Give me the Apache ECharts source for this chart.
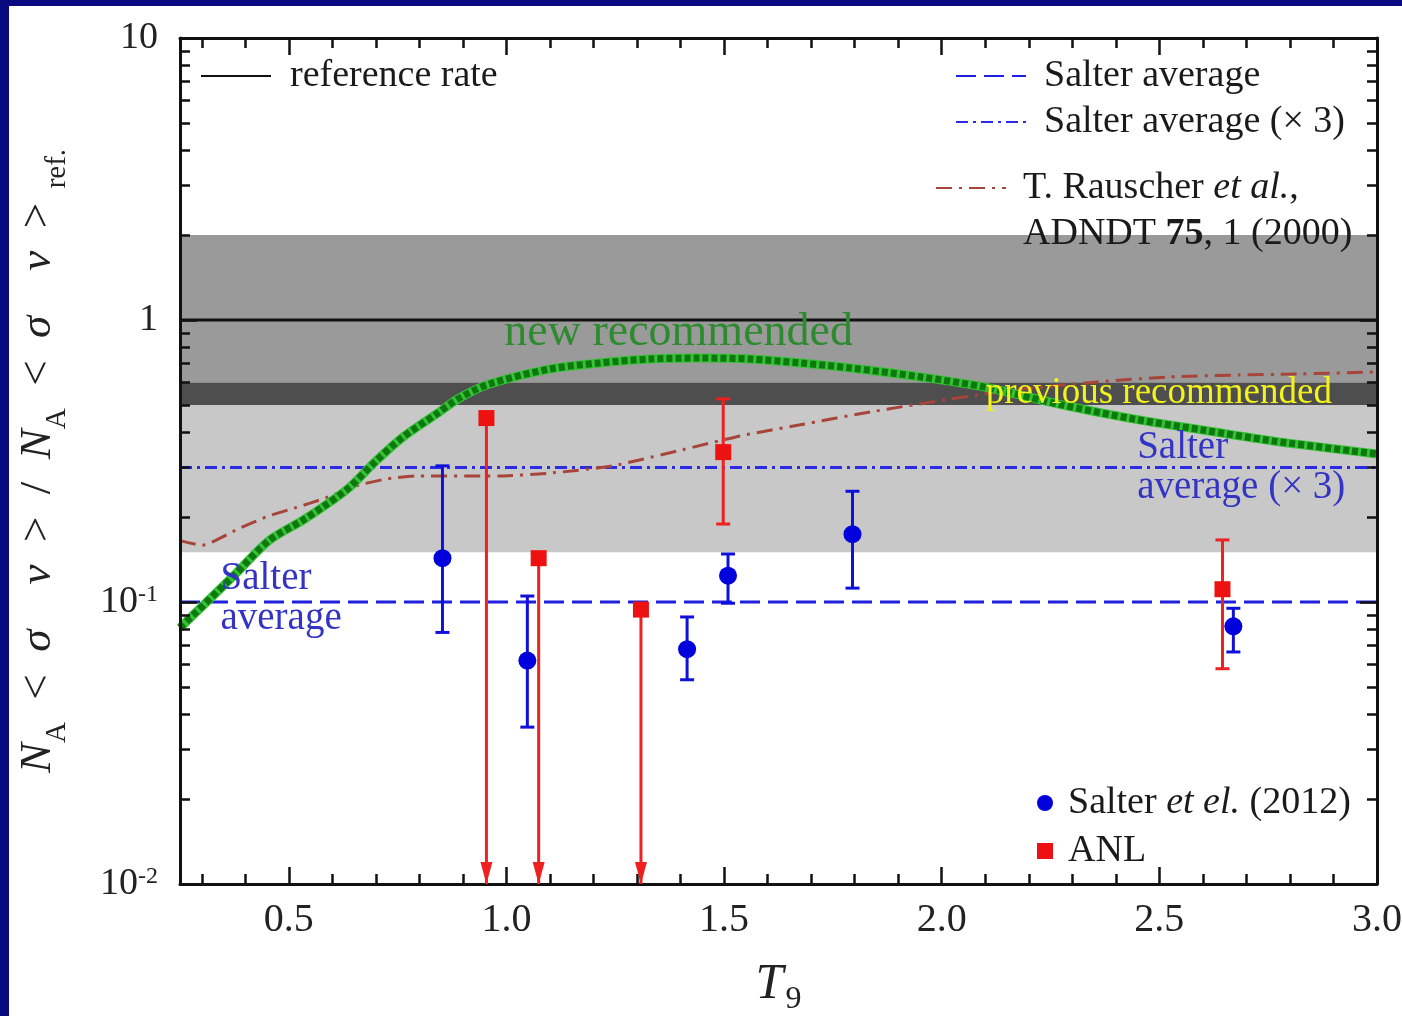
<!DOCTYPE html>
<html>
<head>
<meta charset="utf-8">
<script src="https://cdn.jsdelivr.net/npm/echarts@6/dist/echarts.min.js"></script>
<style>
html, body { margin: 0; padding: 0; background: #0a0a80; }
#main { position: absolute; left: 9px; top: 6px; width: 1393px; height: 1010px; background: #fff; }
</style>
</head>
<body>
<div id="main"></div>
<script>
// ---- data ----
const xRange = [0.25, 3.0];
const yMin = 0.01, yMax = 10;

const referenceRate = 1;
const salterAverage = 0.1;
const salterAverageX3 = 0.3;
// shaded bands [low, high]
const bandMid = [0.6, 2.0];
const bandPrev = [0.5, 0.6];
const bandLow = [0.15, 0.5];

const newRecT9 = [0.25, 0.378, 0.454, 0.53, 0.576, 0.638, 0.70, 0.76, 0.839, 0.892, 0.961, 1.099, 1.214, 1.329, 1.445, 1.56, 1.675, 1.79, 1.952, 2.099, 2.276, 2.44, 2.601, 2.763, 3.0];
const newRecRate = [0.081, 0.126, 0.165, 0.194, 0.216, 0.254, 0.316, 0.382, 0.464, 0.529, 0.593, 0.670, 0.704, 0.727, 0.733, 0.727, 0.704, 0.676, 0.628, 0.578, 0.500, 0.446, 0.407, 0.372, 0.335];

const rauscherT9 = [0.25, 0.30, 0.385, 0.454, 0.516, 0.585, 0.654, 0.724, 0.793, 0.984, 1.106, 1.244, 1.392, 1.537, 1.675, 1.836, 2.021, 2.182, 2.357, 2.521, 2.682, 2.804, 3.0];
const rauscherRate = [0.165, 0.159, 0.182, 0.202, 0.216, 0.234, 0.258, 0.273, 0.280, 0.280, 0.287, 0.304, 0.343, 0.388, 0.425, 0.472, 0.525, 0.569, 0.603, 0.628, 0.638, 0.643, 0.654];

const salterT9 = [0.853, 1.048, 1.415, 1.509, 1.795, 2.670];
const salterRate = [0.143, 0.062, 0.068, 0.124, 0.174, 0.082];
const salterLow = [0.078, 0.036, 0.053, 0.099, 0.112, 0.0665];
const salterHigh = [0.304, 0.105, 0.0885, 0.148, 0.247, 0.095];

const anlT9 = [0.954, 1.074, 1.309, 1.498, 2.645];
const anlRate = [0.449, 0.143, 0.094, 0.340, 0.111];
const anlLow = [null, null, null, 0.189, 0.058];
const anlHigh = [null, null, null, 0.525, 0.166];
const anlUpperLimit = [true, true, true, false, false];

const majorX = [0.5, 1.0, 1.5, 2.0, 2.5, 3.0];
const minorX = [0.3, 0.4, 0.6, 0.7, 0.8, 0.9, 1.1, 1.2, 1.3, 1.4, 1.6, 1.7, 1.8, 1.9,
                2.1, 2.2, 2.3, 2.4, 2.6, 2.7, 2.8, 2.9];
const majorYlog = [-2, -1, 0, 1];
const minorYlog = [];
[-2, -1, 0].forEach(function (d) {
    for (let m = 2; m <= 9; m++) minorYlog.push(d + Math.log10(m));
});

// ---- chart ----
const FONT = 'Liberation Serif';
let myChart = echarts.init(document.getElementById('main'));

function zip(xs, ys) {
    return xs.map(function (x, i) { return [x, ys[i]]; });
}

const salterBars = salterT9.map(function (x, i) { return [x, salterLow[i], salterHigh[i], 0]; });
const anlBars = anlT9.map(function (x, i) {
    return anlUpperLimit[i] ? [x, yMin, anlRate[i], 1] : [x, anlLow[i], anlHigh[i], 0];
});

function errorBar(color) {
    return function (params, api) {
        const x = api.value(0);
        const top = api.coord([x, api.value(2)]);
        const bot = api.coord([x, api.value(1)]);
        const style = { stroke: color, lineWidth: 3 };
        const kids = [{ type: 'line', shape: { x1: top[0], y1: top[1], x2: bot[0], y2: bot[1] }, style: style }];
        if (api.value(3)) {
            kids.push({
                type: 'polygon',
                shape: { points: [[bot[0] - 6, bot[1] - 22], [bot[0] + 6, bot[1] - 22], [bot[0], bot[1]]] },
                style: { fill: color }
            });
        } else {
            kids.push({ type: 'line', shape: { x1: top[0] - 7, y1: top[1], x2: top[0] + 7, y2: top[1] }, style: style });
            kids.push({ type: 'line', shape: { x1: bot[0] - 7, y1: bot[1], x2: bot[0] + 7, y2: bot[1] }, style: style });
        }
        return { type: 'group', children: kids };
    };
}

const LEG = 38;
const richBase = {
    n: { fontFamily: FONT, fontSize: LEG, color: '#1a1a1a' },
    i: { fontFamily: FONT, fontSize: LEG, fontStyle: 'italic', color: '#1a1a1a' },
    b: { fontFamily: FONT, fontSize: LEG, fontWeight: 'bold', color: '#1a1a1a' }
};
const noSymbol = { color: 'rgba(0,0,0,0)', borderWidth: 0, opacity: 0 };

function xAxisCfg(pos, ticks, len, showLine, showLabel) {
    return {
        type: 'value', position: pos, min: xRange[0], max: xRange[1], z: 5,
        axisLine: { show: showLine, onZero: false, lineStyle: { color: '#111', width: 3 } },
        axisTick: { inside: true, length: len, customValues: ticks, lineStyle: { color: '#111', width: 2.5 } },
        axisLabel: { show: showLabel },
        splitLine: { show: false }
    };
}
function yAxisCfg(pos, ticks, len, showLine) {
    return {
        type: 'value', position: pos, min: -2, max: 1, z: 5,
        axisLine: { show: showLine, onZero: false, lineStyle: { color: '#111', width: 3 } },
        axisTick: { inside: true, length: len, customValues: ticks, lineStyle: { color: '#111', width: 2.5 } },
        axisLabel: { show: false },
        splitLine: { show: false }
    };
}

let bottomAxis = xAxisCfg('bottom', majorX, 17, true, true);
bottomAxis.axisLabel = {
    show: true, customValues: majorX, margin: 16,
    fontFamily: FONT, fontSize: 40, color: '#222',
    formatter: function (v) { return v.toFixed(1); }
};
bottomAxis.name = '{t|T}{s|9}';
bottomAxis.nameLocation = 'middle';
bottomAxis.nameGap = 76;
bottomAxis.nameTextStyle = {
    rich: {
        t: { fontFamily: FONT, fontSize: 50, fontStyle: 'italic', color: '#222', verticalAlign: 'top' },
        s: { fontFamily: FONT, fontSize: 32, color: '#222', verticalAlign: 'top', padding: [24, 0, 0, 2] }
    }
};

const yNameRich = {
    i: { fontFamily: FONT, fontSize: 45, fontStyle: 'italic', color: '#222', verticalAlign: 'top' },
    n: { fontFamily: FONT, fontSize: 45, color: '#222', verticalAlign: 'top' },
    s: { fontFamily: FONT, fontSize: 29, color: '#222', verticalAlign: 'top', padding: [27, 0, 0, 0] }
};

let option = {
    animation: false,
    grid: { left: 171, top: 32, width: 1197, height: 846, outerBoundsMode: 'none', containLabel: false },
    xAxis: [
        bottomAxis,
        xAxisCfg('bottom', minorX, 10, false, false),
        xAxisCfg('top', majorX, 17, true, false),
        xAxisCfg('top', minorX, 10, false, false)
    ],
    yAxis: [
        {
            type: 'log', logBase: 10, position: 'left', min: yMin, max: yMax, z: 5,
            axisLine: { show: true, onZero: false, lineStyle: { color: '#111', width: 3 } },
            axisTick: { inside: true, length: 17, lineStyle: { color: '#111', width: 2.5 } },
            splitLine: { show: false },
            axisLabel: {
                margin: 22, fontFamily: FONT, fontSize: 38, color: '#222',
                formatter: function (v) {
                    if (v >= 9) return '10';
                    if (v >= 0.9) return '1';
                    if (v >= 0.09) return '10{sup|-1}';
                    return '10{sup|-2}';
                },
                rich: {
                    sup: { fontFamily: FONT, fontSize: 24, color: '#222', verticalAlign: 'top', padding: [0, 0, 14, 0] }
                }
            },
            name: '{i|N}{s|A}{n|  <  }{i|σ    ν}{n|  >  /  }{i|N}{s|A}{n|  <  }{i|σ    ν}{n|  >}{s|  ref.}',
            nameLocation: 'middle', nameRotate: 90, nameGap: 108,
            nameTextStyle: { rich: yNameRich }
        },
        yAxisCfg('left', minorYlog, 10, false),
        yAxisCfg('right', majorYlog, 17, true),
        yAxisCfg('right', minorYlog, 10, false)
    ],
    legend: [
        {
            data: ['reference rate'], left: 191, top: 50, padding: 0,
            itemWidth: 70, itemHeight: 14, selectedMode: false, itemStyle: noSymbol,
            textStyle: { fontFamily: FONT, fontSize: LEG, color: '#1a1a1a', lineHeight: 40, padding: [0, 0, 0, 14] }
        },
        {
            data: ['Salter average', 'Salter average (× 3)'], orient: 'vertical',
            left: 946, top: 50, padding: 0, itemGap: 6,
            itemWidth: 70, itemHeight: 14, selectedMode: false, itemStyle: noSymbol,
            textStyle: { fontFamily: FONT, fontSize: LEG, color: '#1a1a1a', lineHeight: 40, padding: [0, 0, 0, 13] }
        },
        {
            data: ['Rauscher'], left: 926, top: 113, padding: 0,
            itemWidth: 70, itemHeight: 14, selectedMode: false, itemStyle: noSymbol,
            formatter: function () {
                return '{n|T. Rauscher }{i|et al.}{n|,}\n{n|ADNDT }{b|75}{n|, 1 (2000)}';
            },
            textStyle: { fontFamily: FONT, fontSize: LEG, lineHeight: 46, padding: [46, 0, 0, 12], rich: richBase }
        },
        {
            data: ['Salter', 'ANL'], orient: 'vertical', left: 1028, top: 777, padding: 0, itemGap: 8,
            itemWidth: 16, itemHeight: 16, selectedMode: false,
            formatter: function (name) {
                return name === 'Salter' ? '{n|Salter }{i|et el.}{n| (2012)}' : '{n|ANL}';
            },
            textStyle: { fontFamily: FONT, fontSize: LEG, lineHeight: 40, padding: [0, 0, 0, 10], rich: richBase }
        }
    ],
    series: [
        {
            name: 'bands', type: 'line', data: [], z: 1, silent: true,
            markArea: {
                silent: true,
                data: [
                    [{ yAxis: bandMid[0], itemStyle: { color: '#9a9a9a', opacity: 1 } }, { yAxis: bandMid[1] }],
                    [{ yAxis: bandPrev[0], itemStyle: { color: '#4e4e4e', opacity: 1 } }, { yAxis: bandPrev[1] }],
                    [{ yAxis: bandLow[0], itemStyle: { color: '#c8c8c8', opacity: 1 } }, { yAxis: bandLow[1] }]
                ]
            }
        },
        {
            name: 'reference rate', type: 'line', symbol: 'none', z: 2,
            data: zip(xRange, [referenceRate, referenceRate]),
            lineStyle: { color: '#111', width: 3 },
            itemStyle: { color: '#111' }
        },
        {
            name: 'Salter average', type: 'line', symbol: 'none', z: 3,
            data: zip(xRange, [salterAverage, salterAverage]),
            lineStyle: { color: '#1f1fe0', width: 3, type: [20, 8] },
            itemStyle: { color: '#1f1fe0' }
        },
        {
            name: 'Salter average (× 3)', type: 'line', symbol: 'none', z: 3,
            data: zip(xRange, [salterAverageX3, salterAverageX3]),
            lineStyle: { color: '#2b2be6', width: 3, type: [12, 5, 3, 5] },
            itemStyle: { color: '#2b2be6' }
        },
        {
            name: 'Rauscher', type: 'line', symbol: 'none', z: 3, smooth: 0.2,
            data: zip(rauscherT9, rauscherRate),
            lineStyle: { color: '#a8453a', width: 3, type: [16, 7, 3, 7] },
            itemStyle: { color: '#a8453a' }
        },
        {
            name: 'new recommended', type: 'line', symbol: 'none', z: 4, smooth: 0.3,
            data: zip(newRecT9, newRecRate),
            lineStyle: { color: '#36c236', width: 9 }
        },
        {
            name: 'new recommended dots', type: 'line', symbol: 'none', z: 4, smooth: 0.3,
            data: zip(newRecT9, newRecRate),
            lineStyle: { color: '#0d780d', width: 7, type: [6, 3] }
        },
        {
            name: 'annotations', type: 'line', data: [], z: 8,
            markPoint: {
                symbolSize: 0, silent: true,
                label: { position: 'inside', align: 'left', fontFamily: FONT },
                data: [
                    { coord: [0.995, 0.90], label: { formatter: 'new recommended', verticalAlign: 'middle', fontSize: 46, color: '#2e8a2e' } },
                    { coord: [2.101, 0.551], label: { formatter: 'previous recommended', verticalAlign: 'middle', fontSize: 37, color: '#f2f21c' } },
                    { coord: [2.449, 0.414], label: { formatter: 'Salter\naverage (× 3)', verticalAlign: 'top', lineHeight: 40, fontSize: 39, color: '#3333c4' } },
                    { coord: [0.343, 0.142], label: { formatter: 'Salter\naverage', verticalAlign: 'top', lineHeight: 40, fontSize: 39, color: '#3333c4' } }
                ]
            }
        },
        {
            name: 'salter bars', type: 'custom', z: 6, clip: false, silent: true,
            renderItem: errorBar('#1010dd'), data: salterBars
        },
        {
            name: 'anl bars', type: 'custom', z: 6, clip: false, silent: true,
            renderItem: errorBar('#ee2020'), data: anlBars
        },
        {
            name: 'Salter', type: 'scatter', symbol: 'circle', symbolSize: 18, z: 7,
            data: zip(salterT9, salterRate), itemStyle: { color: '#0000dd', opacity: 1 }
        },
        {
            name: 'ANL', type: 'scatter', symbol: 'rect', symbolSize: 16, z: 7,
            data: zip(anlT9, anlRate), itemStyle: { color: '#ee1111', opacity: 1 }
        }
    ]
};

myChart.setOption(option);
</script>
</body>
</html>
